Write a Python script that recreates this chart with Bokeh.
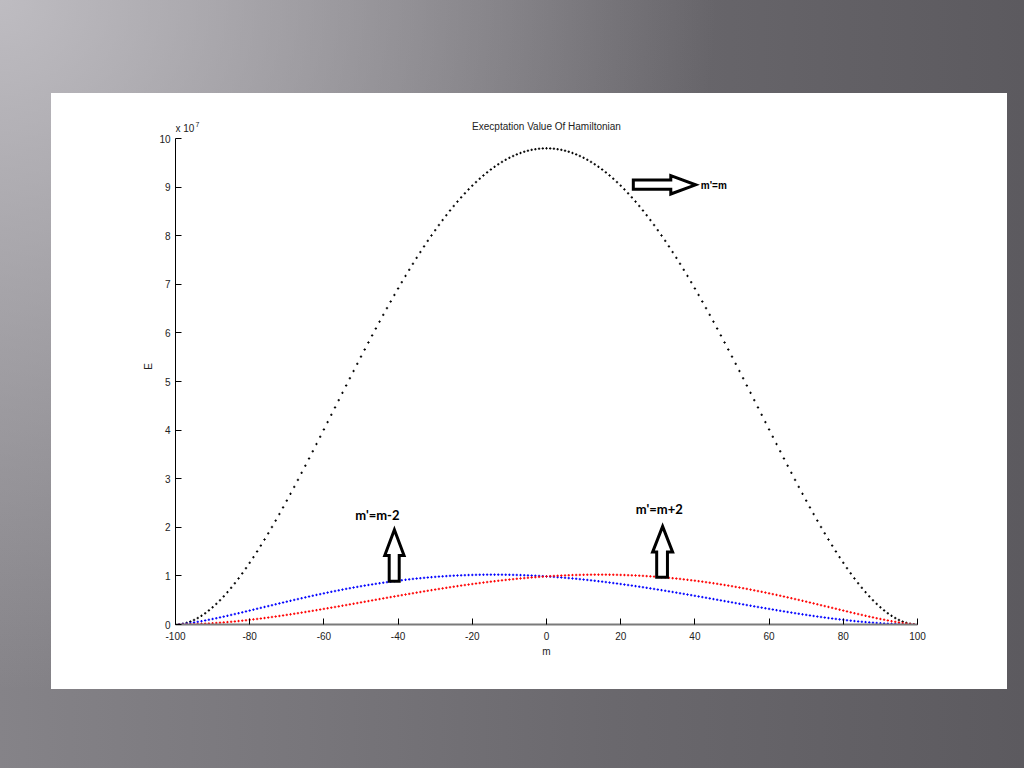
from bokeh.plotting import figure
from bokeh.models import Range1d, Label, FixedTicker, GlobalInlineStyleSheet
from bokeh.embed import file_html
from bokeh.resources import INLINE

# ---------------- data (values in units of 1e7) ----------------
m_values = list(range(-100, 101))

# m' = m  (black)
E_same = [
    0.000, 0.004, 0.015, 0.034, 0.060, 0.093, 0.133, 0.179, 0.231, 0.290,
    0.354, 0.424, 0.499, 0.579, 0.665, 0.755, 0.849, 0.948, 1.052, 1.159,
    1.270, 1.385, 1.503, 1.624, 1.749, 1.876, 2.006, 2.138, 2.273, 2.410,
    2.549, 2.690, 2.832, 2.976, 3.122, 3.268, 3.416, 3.565, 3.714, 3.864,
    4.014, 4.165, 4.316, 4.467, 4.617, 4.768, 4.918, 5.068, 5.217, 5.365,
    5.513, 5.659, 5.804, 5.949, 6.091, 6.233, 6.373, 6.511, 6.647, 6.782,
    6.915, 7.045, 7.174, 7.300, 7.424, 7.546, 7.665, 7.782, 7.896, 8.007,
    8.115, 8.221, 8.323, 8.423, 8.520, 8.613, 8.704, 8.791, 8.874, 8.955,
    9.032, 9.105, 9.175, 9.242, 9.305, 9.364, 9.420, 9.472, 9.520, 9.564,
    9.605, 9.642, 9.675, 9.704, 9.730, 9.751, 9.769, 9.782, 9.792, 9.798,
    9.800,
    9.798, 9.792, 9.782, 9.769, 9.751, 9.730, 9.704, 9.675, 9.642, 9.605,
    9.564, 9.520, 9.472, 9.420, 9.364, 9.305, 9.242, 9.175, 9.105, 9.032,
    8.955, 8.874, 8.791, 8.704, 8.613, 8.520, 8.423, 8.323, 8.221, 8.115,
    8.007, 7.896, 7.782, 7.665, 7.546, 7.424, 7.300, 7.174, 7.045, 6.915,
    6.782, 6.647, 6.511, 6.373, 6.233, 6.091, 5.949, 5.804, 5.659, 5.513,
    5.365, 5.217, 5.068, 4.918, 4.768, 4.617, 4.467, 4.316, 4.165, 4.014,
    3.864, 3.714, 3.565, 3.416, 3.268, 3.122, 2.976, 2.832, 2.690, 2.549,
    2.410, 2.273, 2.138, 2.006, 1.876, 1.749, 1.624, 1.503, 1.385, 1.270,
    1.159, 1.052, 0.948, 0.849, 0.755, 0.665, 0.579, 0.499, 0.424, 0.354,
    0.290, 0.231, 0.179, 0.133, 0.093, 0.060, 0.034, 0.015, 0.004, 0.000,
]

# m' = m-2  (blue)
E_minus2 = [
    0.000, 0.004, 0.011, 0.020, 0.030, 0.042, 0.055, 0.068, 0.083, 0.098,
    0.113, 0.129, 0.146, 0.162, 0.179, 0.197, 0.215, 0.232, 0.250, 0.269,
    0.287, 0.305, 0.324, 0.342, 0.361, 0.379, 0.397, 0.416, 0.434, 0.452,
    0.470, 0.488, 0.506, 0.523, 0.541, 0.558, 0.575, 0.592, 0.609, 0.625,
    0.641, 0.657, 0.673, 0.688, 0.703, 0.718, 0.733, 0.747, 0.761, 0.774,
    0.788, 0.801, 0.813, 0.825, 0.837, 0.849, 0.860, 0.871, 0.882, 0.892,
    0.902, 0.911, 0.920, 0.929, 0.938, 0.946, 0.953, 0.960, 0.967, 0.974,
    0.980, 0.986, 0.991, 0.996, 1.001, 1.005, 1.009, 1.012, 1.015, 1.018,
    1.020, 1.022, 1.024, 1.025, 1.026, 1.026, 1.026, 1.026, 1.025, 1.024,
    1.023, 1.021, 1.019, 1.017, 1.014, 1.011, 1.007, 1.003, 0.999, 0.995,
    0.990,
    0.985, 0.980, 0.974, 0.968, 0.961, 0.955, 0.948, 0.941, 0.933, 0.925,
    0.917, 0.909, 0.900, 0.891, 0.882, 0.873, 0.863, 0.853, 0.843, 0.833,
    0.822, 0.812, 0.801, 0.790, 0.778, 0.767, 0.755, 0.743, 0.731, 0.719,
    0.707, 0.694, 0.682, 0.669, 0.656, 0.643, 0.630, 0.617, 0.604, 0.590,
    0.577, 0.564, 0.550, 0.537, 0.523, 0.509, 0.496, 0.482, 0.468, 0.455,
    0.441, 0.427, 0.414, 0.400, 0.387, 0.373, 0.360, 0.347, 0.334, 0.321,
    0.308, 0.295, 0.282, 0.270, 0.257, 0.245, 0.233, 0.221, 0.209, 0.198,
    0.186, 0.175, 0.164, 0.154, 0.143, 0.133, 0.123, 0.114, 0.105, 0.096,
    0.087, 0.079, 0.071, 0.063, 0.056, 0.049, 0.043, 0.037, 0.031, 0.026,
    0.021, 0.017, 0.013, 0.010, 0.007, 0.004, 0.002, 0.001, 0.000, 0.000,
]

# m' = m+2  (red)
E_plus2 = [
    0.000, 0.000, 0.001, 0.002, 0.004, 0.007, 0.010, 0.013, 0.017, 0.021,
    0.026, 0.031, 0.037, 0.043, 0.049, 0.056, 0.063, 0.071, 0.079, 0.087,
    0.096, 0.105, 0.114, 0.123, 0.133, 0.143, 0.154, 0.164, 0.175, 0.186,
    0.198, 0.209, 0.221, 0.233, 0.245, 0.257, 0.270, 0.282, 0.295, 0.308,
    0.321, 0.334, 0.347, 0.360, 0.373, 0.387, 0.400, 0.414, 0.427, 0.441,
    0.455, 0.468, 0.482, 0.496, 0.509, 0.523, 0.537, 0.550, 0.564, 0.577,
    0.590, 0.604, 0.617, 0.630, 0.643, 0.656, 0.669, 0.682, 0.694, 0.707,
    0.719, 0.731, 0.743, 0.755, 0.767, 0.778, 0.790, 0.801, 0.812, 0.822,
    0.833, 0.843, 0.853, 0.863, 0.873, 0.882, 0.891, 0.900, 0.909, 0.917,
    0.925, 0.933, 0.941, 0.948, 0.955, 0.961, 0.968, 0.974, 0.980, 0.985,
    0.990,
    0.995, 0.999, 1.003, 1.007, 1.011, 1.014, 1.017, 1.019, 1.021, 1.023,
    1.024, 1.025, 1.026, 1.026, 1.026, 1.026, 1.025, 1.024, 1.022, 1.020,
    1.018, 1.015, 1.012, 1.009, 1.005, 1.001, 0.996, 0.991, 0.986, 0.980,
    0.974, 0.967, 0.960, 0.953, 0.946, 0.938, 0.929, 0.920, 0.911, 0.902,
    0.892, 0.882, 0.871, 0.860, 0.849, 0.837, 0.825, 0.813, 0.801, 0.788,
    0.774, 0.761, 0.747, 0.733, 0.718, 0.703, 0.688, 0.673, 0.657, 0.641,
    0.625, 0.609, 0.592, 0.575, 0.558, 0.541, 0.523, 0.506, 0.488, 0.470,
    0.452, 0.434, 0.416, 0.397, 0.379, 0.361, 0.342, 0.324, 0.305, 0.287,
    0.269, 0.250, 0.232, 0.215, 0.197, 0.179, 0.162, 0.146, 0.129, 0.113,
    0.098, 0.083, 0.068, 0.055, 0.042, 0.030, 0.020, 0.011, 0.004, 0.000,
]

x_ticks = [-100, -80, -60, -40, -20, 0, 20, 40, 60, 80, 100]
x_tick_labels = ["-100", "-80", "-60", "-40", "-20", "0", "20", "40", "60", "80", "100"]
y_ticks = [0, 1, 2, 3, 4, 5, 6, 7, 8, 9, 10]
y_tick_labels = ["0", "1", "2", "3", "4", "5", "6", "7", "8", "9", "10"]

title_text = "Execptation Value Of Hamiltonian"
x_label = "m"
y_label = "E"
exponent_text = "x 10"
exponent_sup = "7"
label_same = "m'=m"
label_minus2 = "m'=m-2"
label_plus2 = "m'=m+2"

# ---------------- figure ----------------
AXFONT = "Liberation Sans"

# frame extends above the y=10 axis end so the title/exponent can sit inside it
p = figure(
    width=956, height=596,
    x_range=Range1d(-100, 100), y_range=Range1d(0, 10.62),
    output_backend="svg", toolbar_location=None,
    min_border_left=124, min_border_right=90,
    min_border_top=15, min_border_bottom=65,
    background_fill_color="white", border_fill_color="white",
    outline_line_color=None,
)
p.outline_line_alpha = 0
p.margin = (93, 0, 0, 51)
p.styles = {"background-color": "white"}

p.stylesheets = [GlobalInlineStyleSheet(css="""
html, body {
  background:
    radial-gradient(ellipse 70% 90% at 0% 0%, rgba(200,198,203,0.85) 0%, rgba(200,198,203,0) 100%),
    linear-gradient(to right, #858388 0%, #78767b 30%, #6a686d 60%, #5c5a5f 100%);
  background-attachment: fixed;
  min-height: 100%;
}
""")]

p.xgrid.visible = False
p.ygrid.visible = False

for ax in (p.xaxis[0], p.yaxis[0]):
    ax.major_label_text_font = AXFONT
    ax.major_label_text_font_size = "10px"
    ax.major_label_text_color = "#222222"
    ax.axis_label_text_font = AXFONT
    ax.axis_label_text_font_size = "10px"
    ax.axis_label_text_font_style = "normal"
    ax.axis_label_text_color = "#222222"
    ax.major_tick_in = 6
    ax.major_tick_out = 0
    ax.minor_tick_in = 0
    ax.minor_tick_out = 0
    ax.major_tick_line_color = "black"

p.xaxis[0].ticker = FixedTicker(ticks=x_ticks)
p.yaxis[0].ticker = FixedTicker(ticks=y_ticks)
p.xaxis[0].major_label_overrides = dict(zip(x_ticks, x_tick_labels))
p.yaxis[0].major_label_overrides = dict(zip(y_ticks, y_tick_labels))
p.xaxis[0].axis_label = x_label
p.yaxis[0].axis_label = y_label
p.xaxis[0].axis_line_color = "#7a7a7a"
p.xaxis[0].axis_line_width = 2
p.yaxis[0].axis_line_color = "black"
p.yaxis[0].axis_line_width = 1
p.yaxis[0].bounds = (0, 10)
p.xaxis[0].bounds = (-100, 100)
p.xaxis[0].major_label_standoff = 7
p.yaxis[0].major_label_standoff = 5
p.xaxis[0].axis_label_standoff = 3
p.yaxis[0].axis_label_standoff = 2

# title and exponent (text inside the extended frame)
p.add_layout(Label(x=0, y=10.25, text=title_text, text_baseline="middle",
                   text_align="center", text_font=AXFONT, text_font_size="10px",
                   text_color="#222222"))
p.add_layout(Label(x=-100, y=10.1, text=exponent_text, x_offset=0, y_offset=0,
                   text_baseline="bottom", text_align="left", text_font=AXFONT,
                   text_font_size="10px", text_color="#222222"))
p.add_layout(Label(x=-100, y=10.1, text=exponent_sup, x_offset=20, y_offset=7,
                   text_baseline="bottom", text_align="left", text_font=AXFONT,
                   text_font_size="7px", text_color="#222222"))

# series
p.scatter(m_values, E_same, marker="cross", size=2.4, line_width=1, color="black")
p.scatter(m_values, E_minus2, marker="cross", size=2.4, line_width=1, color="#0000ff")
p.scatter(m_values, E_plus2, marker="cross", size=2.4, line_width=1, color="#ff0000")

# block arrows (annotation shapes, data units)
arrow_right = ([23.4, 33.5, 33.5, 40.2, 33.5, 33.5, 23.4],
               [9.15, 9.15, 9.24, 9.05, 8.86, 8.96, 8.96])
arrow_up_left = ([-42.4, -42.4, -43.6, -41.0, -38.4, -39.7, -39.7],
                 [0.89, 1.42, 1.42, 1.95, 1.42, 1.42, 0.89])
arrow_up_right = ([29.7, 29.7, 28.6, 31.3, 34.0, 32.6, 32.6],
                  [0.97, 1.49, 1.49, 2.02, 1.49, 1.49, 0.97])
for xs, ys in (arrow_right, arrow_up_left, arrow_up_right):
    p.patch(xs, ys, fill_color="white", line_color="black", line_width=3,
            line_join="miter")

p.add_layout(Label(x=41.6, y=9.04, text=label_same, text_baseline="middle",
                   text_align="left", text_font=AXFONT, text_font_size="10px",
                   text_font_style="bold", text_color="black"))
p.add_layout(Label(x=-45.6, y=2.25, text=label_minus2, text_baseline="middle",
                   text_align="center", text_font="Lato", text_font_size="13px",
                   text_font_style="bold", text_color="black"))
p.add_layout(Label(x=30.4, y=2.37, text=label_plus2, text_baseline="middle",
                   text_align="center", text_font="Lato", text_font_size="13px",
                   text_font_style="bold", text_color="black"))

open("out.html", "w").write(file_html(p, INLINE))
